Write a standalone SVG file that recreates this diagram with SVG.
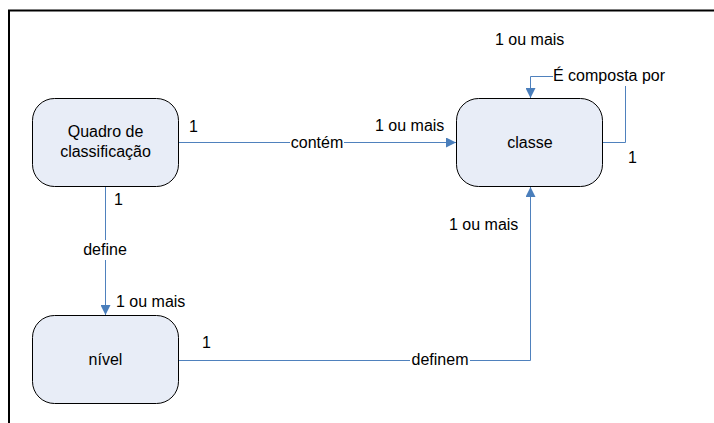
<svg xmlns="http://www.w3.org/2000/svg" width="714" height="423" viewBox="0 0 714 423">
<defs>
<style>
.frame{fill:none;stroke:#000;stroke-width:2}
.box{fill:#e8edf7;stroke:#000;stroke-width:1}
.con{fill:none;stroke:#4f81bd;stroke-width:1}
text{font-family:"Liberation Sans",Arial,sans-serif;font-size:16px;fill:#000}
.c{text-anchor:middle}
.bg{fill:#fff}
</style>
<marker id="arr" viewBox="0 0 10 10" refX="10" refY="5" markerWidth="10" markerHeight="10" markerUnits="userSpaceOnUse" orient="auto">
<path d="M0,0 L10,5 L0,10 Z" fill="#4a7ebb"/>
</marker>
</defs>
<rect width="714" height="423" fill="#fff"/>
<path class="frame" d="M9,423 V10.5 H714"/>
<g id="connectors">
<path class="con" d="M178,142.5 H456" marker-end="url(#arr)"/>
<rect class="bg" x="290" y="132" width="54" height="20"/>
<text class="c" x="317" y="148">contém</text>
<path class="con" d="M105.5,186 V315" marker-end="url(#arr)"/>
<rect class="bg" x="78" y="240" width="55" height="20"/>
<text class="c" x="105" y="255">define</text>
<path class="con" d="M178,360.5 H530.5 V187" marker-end="url(#arr)"/>
<rect class="bg" x="410" y="350" width="60" height="20"/>
<text class="c" x="440" y="365">definem</text>
<path class="con" d="M603,142.5 H625.5 V76.5 H530.5 V98" marker-end="url(#arr)"/>
<rect class="bg" x="553" y="66" width="116" height="20"/>
<text x="553" y="81">É composta por</text>
</g>
<g id="quadro">
<rect class="box" x="32.5" y="98.5" width="146" height="88" rx="22"/>
<text class="c" x="105.5" y="137">Quadro de</text>
<text class="c" x="105.5" y="157">classificação</text>
</g>
<g id="classe">
<rect class="box" x="456.5" y="98.5" width="146" height="88" rx="22"/>
<text class="c" x="530" y="148">classe</text>
</g>
<g id="nivel">
<rect class="box" x="32.5" y="315.5" width="146" height="88" rx="22"/>
<text class="c" x="105.5" y="365">nível</text>
</g>
<g id="labels">
<text x="189" y="132">1</text>
<text x="375" y="131">1 ou mais</text>
<text x="495" y="45">1 ou mais</text>
<text x="628" y="163">1</text>
<text x="449" y="230">1 ou mais</text>
<text x="114" y="205">1</text>
<text x="116" y="307">1 ou mais</text>
<text x="202" y="348">1</text>
</g>
</svg>
